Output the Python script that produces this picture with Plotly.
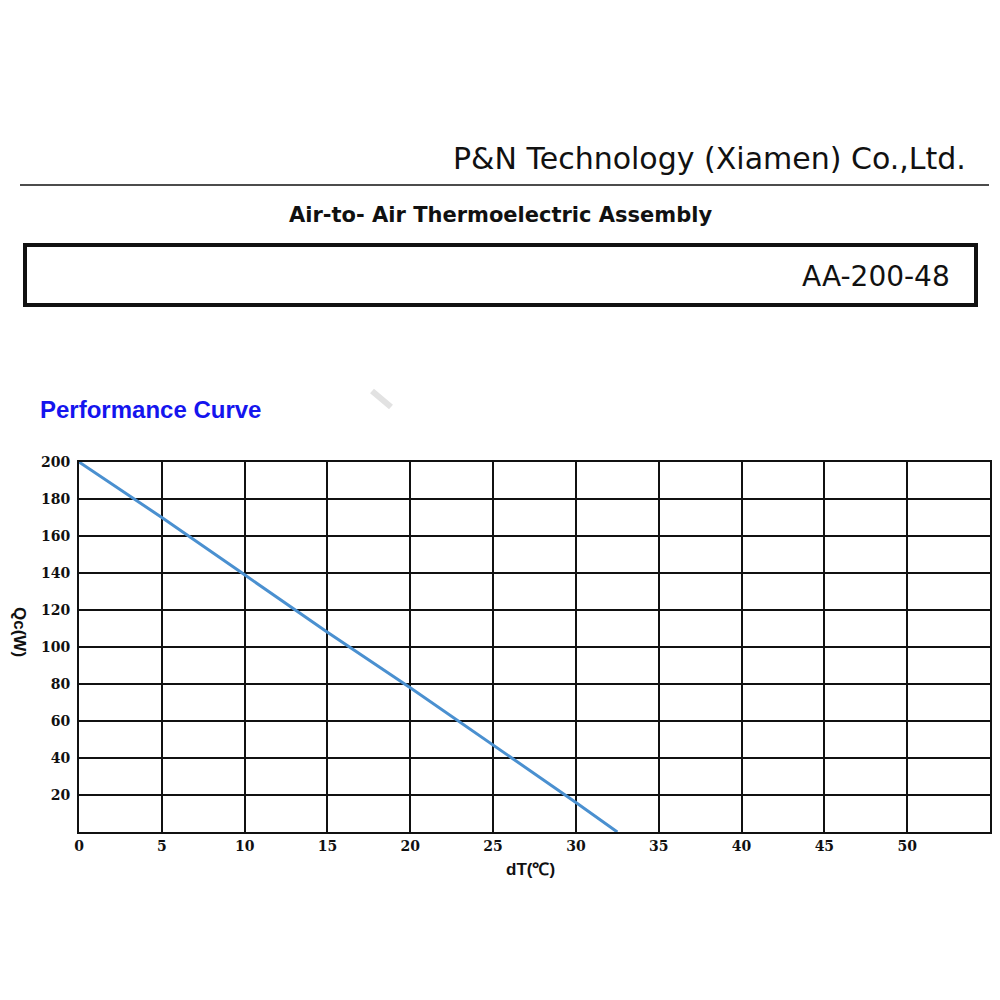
import plotly.graph_objects as go

# performance curve
dt = [0, 5, 10, 15, 20, 25, 30, 32.5]
qc = [200, 170, 139, 108, 78, 47, 16, 0]

x_ticks = [0, 5, 10, 15, 20, 25, 30, 35, 40, 45, 50]
y_ticks = [20, 40, 60, 80, 100, 120, 140, 160, 180, 200]

# page body has an 8px margin, so the figure is a bit smaller than the window
OFF = 8
W, H = 984, 984


def px(x):
    return (x - OFF) / W


def py(y):
    return 1 - (y - OFF) / H


fig = go.Figure()

fig.add_trace(
    go.Scatter(
        x=dt,
        y=qc,
        mode="lines",
        line=dict(color="#4a90d0", width=3),
        showlegend=False,
    )
)

sans = "DejaVu Sans, Liberation Sans, Arial"

# header block
fig.add_annotation(
    text="P&N Technology (Xiamen) Co.,Ltd.",
    x=px(968), y=py(158), xref="paper", yref="paper",
    showarrow=False, xanchor="right", yanchor="middle",
    font=dict(family=sans, size=30, color="#111"),
)
fig.add_shape(
    type="line", xref="paper", yref="paper",
    x0=px(20), x1=px(989), y0=py(185), y1=py(185),
    line=dict(color="#111", width=1.5),
)
fig.add_annotation(
    text="<b>Air-to- Air Thermoelectric Assembly</b>",
    x=px(501), y=py(215), xref="paper", yref="paper",
    showarrow=False, xanchor="center", yanchor="middle",
    font=dict(family=sans, size=21, color="#111"),
)
fig.add_shape(
    type="rect", xref="paper", yref="paper",
    x0=px(25), x1=px(976), y0=py(245), y1=py(305),
    line=dict(color="#111", width=4),
)
fig.add_annotation(
    text="AA-200-48",
    x=px(952), y=py(276), xref="paper", yref="paper",
    showarrow=False, xanchor="right", yanchor="middle",
    font=dict(family=sans, size=28, color="#111"),
)
# faint watermark stroke
fig.add_shape(
    type="line", xref="paper", yref="paper",
    x0=px(372), x1=px(391), y0=py(391), y1=py(407),
    line=dict(color="#e2e2e2", width=6),
)
fig.add_annotation(
    text="<b>Performance Curve</b>",
    x=px(38), y=py(410), xref="paper", yref="paper",
    showarrow=False, xanchor="left", yanchor="middle",
    font=dict(family="Liberation Sans, Arial", size=24, color="#1515ee"),
)
# rotated y title (reads top to bottom)
fig.add_annotation(
    text="<b>Qc(W)</b>",
    x=px(20), y=py(632), xref="paper", yref="paper",
    showarrow=False, textangle=90, xanchor="center", yanchor="middle",
    font=dict(family="Liberation Sans, Arial", size=17, color="#111"),
)
fig.add_annotation(
    text="<b>dT(℃)</b>",
    x=px(530), y=py(869), xref="paper", yref="paper",
    showarrow=False, xanchor="center", yanchor="middle",
    font=dict(family="Liberation Sans, Arial", size=17, color="#111"),
)

fig.update_layout(
    width=W,
    height=H,
    margin=dict(l=0, r=0, t=0, b=0),
    plot_bgcolor="white",
    paper_bgcolor="white",
    font=dict(family="DejaVu Serif, Liberation Serif", color="#111"),
)

fig.update_xaxes(
    domain=[px(79), px(990)],
    range=[0, 55],
    tickvals=x_ticks,
    ticktext=[f"<b>{v}</b>" for v in x_ticks],
    tickfont=dict(size=14),
    showgrid=True,
    gridcolor="#111",
    gridwidth=2,
    zeroline=False,
    showline=True,
    linecolor="#111",
    linewidth=2,
    mirror=True,
    ticks="",
    automargin=False,
)

fig.update_yaxes(
    domain=[py(832), py(462)],
    range=[0, 200],
    tickvals=y_ticks,
    ticktext=[f"<b>{v}</b>" for v in y_ticks],
    tickfont=dict(size=14),
    showgrid=True,
    gridcolor="#111",
    gridwidth=2,
    zeroline=False,
    showline=True,
    linecolor="#111",
    linewidth=2,
    mirror=True,
    ticks="",
    ticklabelstandoff=4,
    automargin=False,
)

fig.write_html("out.html")
